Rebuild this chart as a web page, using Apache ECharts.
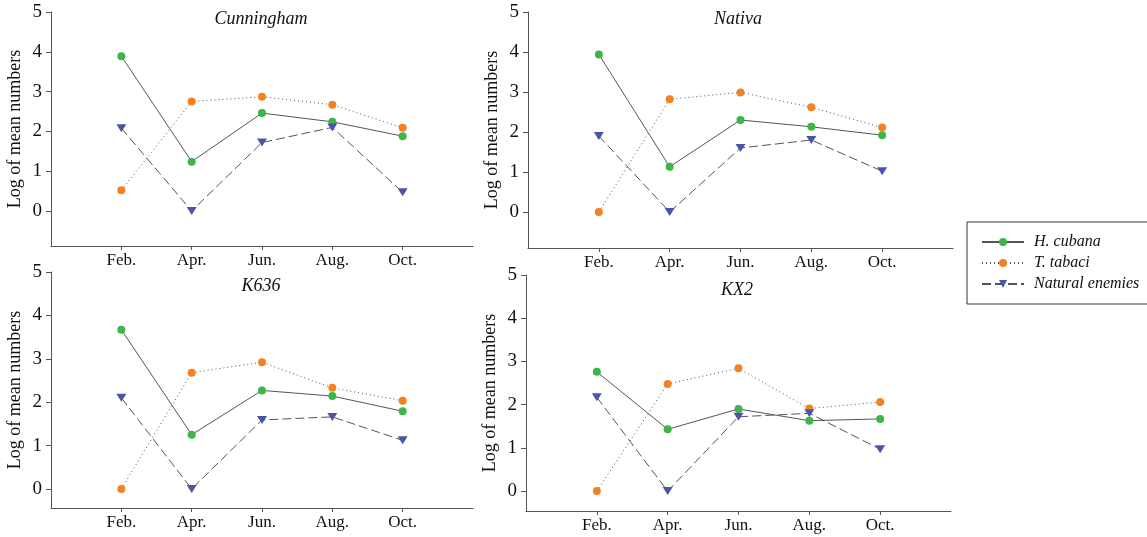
<!DOCTYPE html>
<html>
<head>
<meta charset="utf-8">
<style>
    html, body { margin: 0; padding: 0; overflow: hidden; background: #fff; }
</style>
</head>
<body>
<div id="chart" style="width:1147px; height:537px;"></div>
<script src="https://cdn.jsdelivr.net/npm/echarts@6.0.0/dist/echarts.min.js"></script>
<script>
    var months = ['Feb.', 'Apr.', 'Jun.', 'Aug.', 'Oct.'];
    var cultivars = ['Cunningham', 'Nativa', 'K636', 'KX2'];
    var seriesNames = ['H. cubana', 'T. tabaci', 'Natural enemies'];
    var yTicks = [0, 1, 2, 3, 4, 5];

    // log of mean numbers, one array per cultivar and group
    var cunninghamCubana = [3.89, 1.24, 2.46, 2.24, 1.88];
    var cunninghamTabaci = [0.52, 2.75, 2.87, 2.67, 2.09];
    var cunninghamEnemies = [2.08, 0.0, 1.72, 2.10, 0.47];

    var nativaCubana = [3.94, 1.13, 2.30, 2.13, 1.92];
    var nativaTabaci = [0.0, 2.82, 2.99, 2.62, 2.11];
    var nativaEnemies = [1.90, 0.0, 1.60, 1.80, 1.02];

    var k636Cubana = [3.67, 1.25, 2.27, 2.14, 1.79];
    var k636Tabaci = [0.0, 2.68, 2.92, 2.33, 2.03];
    var k636Enemies = [2.10, 0.0, 1.59, 1.66, 1.12];

    var kx2Cubana = [2.76, 1.43, 1.90, 1.63, 1.67];
    var kx2Tabaci = [0.0, 2.48, 2.84, 1.91, 2.06];
    var kx2Enemies = [2.17, 0.0, 1.72, 1.80, 0.97];

    var panelData = [
        [cunninghamCubana, cunninghamTabaci, cunninghamEnemies],
        [nativaCubana, nativaTabaci, nativaEnemies],
        [k636Cubana, k636Tabaci, k636Enemies],
        [kx2Cubana, kx2Tabaci, kx2Enemies]
    ];

    var serif = "'Liberation Serif', 'Times New Roman', serif";
    var axisColor = '#555';

    // grid boxes
    var grids = [
        {left: 51, top: 12, width: 422, height: 234, ymin: -0.88, titleX: 261, titleY: 10},
        {left: 528, top: 12, width: 425, height: 236, ymin: -0.9, titleX: 738, titleY: 10},
        {left: 51, top: 272, width: 422, height: 236, ymin: -0.44, titleX: 261, titleY: 277},
        {left: 526, top: 275, width: 425, height: 236, ymin: -0.46, titleX: 737, titleY: 281}
    ];

    var styles = [
        {color: '#3cb54a', symbol: 'circle', size: 8, rotate: 0, line: 'solid'},
        {color: '#f58220', symbol: 'circle', size: 8, rotate: 0, line: [1, 3]},
        {color: '#4b55a5', symbol: 'triangle', size: [10, 8], rotate: 180, line: [9, 4]}
    ];

    var chart = echarts.init(document.getElementById('chart'), null, {renderer: 'canvas'});

    var option = {
        backgroundColor: '#fff',
        animation: false,
        title: [],
        grid: [],
        xAxis: [],
        yAxis: [],
        series: [],
        legend: {
            data: seriesNames,
            orient: 'vertical',
            left: 967,
            top: 222,
            padding: [12, 40, 12, 14],
            itemWidth: 42,
            itemHeight: 10,
            itemGap: 5,
            borderColor: '#333',
            borderWidth: 1,
            textStyle: {fontFamily: serif, fontStyle: 'italic', fontSize: 16, color: '#111', padding: [0, 0, 0, 5]}
        }
    };

    grids.forEach(function (g, i) {
        option.title.push({
            text: cultivars[i],
            left: g.titleX,
            top: g.titleY,
            textAlign: 'center',
            padding: 0,
            textStyle: {fontFamily: serif, fontStyle: 'italic', fontWeight: 'normal', fontSize: 18, color: '#111'}
        });
        option.grid.push({left: g.left, top: g.top, width: g.width, height: g.height, containLabel: false, outerBoundsMode: 'none'});
        option.xAxis.push({
            type: 'value',
            gridIndex: i,
            min: 0,
            max: 6,
            splitLine: {show: false},
            axisLine: {show: true, onZero: false, lineStyle: {color: axisColor, width: 1}},
            axisTick: {show: true, length: 4, customValues: [1, 2, 3, 4, 5], lineStyle: {color: axisColor}},
            axisLabel: {
                customValues: [1, 2, 3, 4, 5],
                margin: 6,
                fontFamily: serif, fontSize: 17, color: '#111',
                formatter: function (v) { return months[Math.round(v) - 1] || ''; }
            }
        });
        option.yAxis.push({
            type: 'value',
            gridIndex: i,
            min: g.ymin,
            max: 5,
            name: 'Log of mean numbers',
            nameLocation: 'middle',
            nameGap: 27,
            nameTextStyle: {fontFamily: serif, fontSize: 18, color: '#111'},
            splitLine: {show: false},
            axisLine: {show: true, onZero: false, lineStyle: {color: axisColor, width: 1}},
            axisTick: {show: true, length: 5, customValues: yTicks, lineStyle: {color: axisColor}},
            axisLabel: {customValues: yTicks, margin: 9, fontFamily: serif, fontSize: 19, color: '#111'}
        });
        panelData[i].forEach(function (values, k) {
            var s = styles[k];
            option.series.push({
                name: seriesNames[k],
                type: 'line',
                xAxisIndex: i,
                yAxisIndex: i,
                data: values.map(function (v, j) { return [j + 1, v]; }),
                symbol: s.symbol,
                symbolSize: s.size,
                symbolRotate: s.rotate,
                itemStyle: {color: s.color},
                lineStyle: {color: '#555', width: 1, type: s.line},
                z: 2 + k
            });
        });
    });

    chart.setOption(option);
</script>
</body>
</html>
